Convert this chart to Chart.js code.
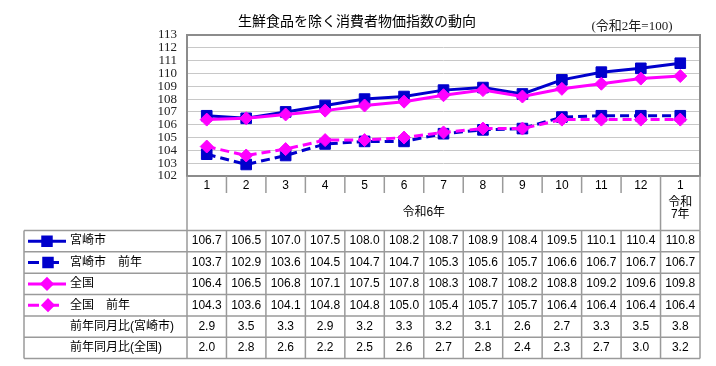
<!DOCTYPE html>
<html lang="ja">
<head>
<meta charset="utf-8">
<title>生鮮食品を除く消費者物価指数の動向</title>
<script src="https://cdn.jsdelivr.net/npm/chart.js@4.4.1/dist/chart.umd.min.js"></script>
<style>
  html, body { margin: 0; padding: 0; background: #fff; }
  #wrap { position: relative; width: 716px; height: 366px; }
</style>
</head>
<body>
<div id="wrap"><canvas id="cpiChart" width="716" height="366"></canvas></div>
<script>
// months along the x axis (2024 Jan-Dec, then 2025 Jan)
const months = ['1', '2', '3', '4', '5', '6', '7', '8', '9', '10', '11', '12', '1'];
const yearLabel = '令和6年';
const nextYearLabel = ['令和', '7年'];

const miyazaki = [106.7, 106.5, 107.0, 107.5, 108.0, 108.2, 108.7, 108.9, 108.4, 109.5, 110.1, 110.4, 110.8];
const miyazakiPrev = [103.7, 102.9, 103.6, 104.5, 104.7, 104.7, 105.3, 105.6, 105.7, 106.6, 106.7, 106.7, 106.7];
const national = [106.4, 106.5, 106.8, 107.1, 107.5, 107.8, 108.3, 108.7, 108.2, 108.8, 109.2, 109.6, 109.8];
const nationalPrev = [104.3, 103.6, 104.1, 104.8, 104.8, 105.0, 105.4, 105.7, 105.7, 106.4, 106.4, 106.4, 106.4];
const yoyMiyazaki = [2.9, 3.5, 3.3, 2.9, 3.2, 3.3, 3.2, 3.1, 2.6, 2.7, 3.3, 3.5, 3.8];
const yoyNational = [2.0, 2.8, 2.6, 2.2, 2.5, 2.6, 2.7, 2.8, 2.4, 2.3, 2.7, 3.0, 3.2];

const seriesLabels = ['宮崎市', '宮崎市　前年', '全国', '全国　前年'];
const ratioLabels = ['前年同月比(宮崎市)', '前年同月比(全国)'];

const chartTitle = '生鮮食品を除く消費者物価指数の動向';
const unitLabel = '(令和2年=100)';

const BLUE = '#0000cc';
const MAGENTA = '#ff00ff';
const LINE_GRAY = '#9a9a9a';
const TEXT_FONT = '12px "Liberation Sans", "Noto Sans CJK JP", sans-serif';

// title, frame and the data table under the plot
const tablePlugin = {
    id: 'dataTable',
    beforeDatasetsDraw(chart) {
        const { ctx, chartArea: a } = chart;
        ctx.save();
        ctx.strokeStyle = '#8c8c8c';
        ctx.lineWidth = 2;
        ctx.strokeRect(a.left, a.top, a.right - a.left, a.bottom - a.top);
        ctx.restore();
    },
    afterDraw(chart) {
        const { ctx, chartArea: a, scales: { x } } = chart;
        const colW = x.getPixelForValue(1) - x.getPixelForValue(0);
        const edge = i => x.getPixelForValue(i) - colW / 2;
        const n = months.length;
        const headTop = a.bottom;
        const headBot = a.bottom + 54.5;
        const rowH = 21.35;
        const tableLeft = 24;

        ctx.save();

        // title
        ctx.fillStyle = '#000';
        ctx.textAlign = 'center';
        ctx.textBaseline = 'middle';
        ctx.font = '14px "Noto Sans CJK JP", sans-serif';
        ctx.fillText(chartTitle, 357, 21);
        ctx.font = '13px "Liberation Serif", "Noto Sans CJK JP", serif';
        ctx.fillStyle = '#222';
        ctx.fillText(unitLabel, 632, 27);

        // header lines
        ctx.strokeStyle = LINE_GRAY;
        ctx.lineWidth = 1.5;
        ctx.beginPath();
        ctx.moveTo(edge(0), headTop); ctx.lineTo(edge(0), headBot);
        ctx.moveTo(edge(n), headTop); ctx.lineTo(edge(n), headBot);
        ctx.moveTo(edge(n - 1), headTop); ctx.lineTo(edge(n - 1), headBot);
        for (let i = 1; i < n - 1; i++) {
            ctx.moveTo(edge(i), headTop); ctx.lineTo(edge(i), headTop + 17);
        }
        ctx.stroke();

        // header text
        ctx.font = TEXT_FONT;
        ctx.fillStyle = '#000';
        months.forEach((m, i) => ctx.fillText(m, x.getPixelForValue(i), headTop + 10));
        ctx.fillText(yearLabel, (edge(0) + edge(n - 1)) / 2, headTop + 37);
        ctx.fillText(nextYearLabel[0], x.getPixelForValue(n - 1), headTop + 26.5);
        ctx.fillText(nextYearLabel[1], x.getPixelForValue(n - 1), headTop + 39);

        // body grid
        const rows = [miyazaki, miyazakiPrev, national, nationalPrev, yoyMiyazaki, yoyNational];
        const bottom = headBot + rows.length * rowH;
        ctx.beginPath();
        for (let r = 0; r <= rows.length; r++) {
            const y = headBot + r * rowH;
            ctx.moveTo(tableLeft, y); ctx.lineTo(edge(n), y);
        }
        ctx.moveTo(tableLeft, headBot); ctx.lineTo(tableLeft, bottom);
        for (let i = 0; i <= n; i++) {
            ctx.moveTo(edge(i), headBot); ctx.lineTo(edge(i), bottom);
        }
        ctx.stroke();

        // values
        rows.forEach((vals, r) => {
            const y = headBot + r * rowH + rowH / 2;
            vals.forEach((v, i) => ctx.fillText(v.toFixed(1), x.getPixelForValue(i), y));
        });

        // row labels with legend keys
        ctx.textAlign = 'left';
        const labels = seriesLabels.concat(ratioLabels);
        labels.forEach((lab, r) => {
            const y = headBot + r * rowH + rowH / 2;
            ctx.fillStyle = '#000';
            ctx.fillText(lab, 70, y);
            if (r >= seriesLabels.length) return;
            const ds = chart.data.datasets[r];
            ctx.strokeStyle = ds.borderColor;
            ctx.fillStyle = ds.backgroundColor;
            ctx.lineWidth = 3;
            ctx.beginPath();
            if (ds.borderDash) {
                ctx.moveTo(28, y); ctx.lineTo(39, y);
                ctx.moveTo(53, y); ctx.lineTo(59, y);
            } else {
                ctx.moveTo(28, y); ctx.lineTo(66, y);
            }
            ctx.stroke();
            const px = ds.borderDash ? 48 : 47;
            Chart.helpers.drawPoint(ctx, {
                pointStyle: ds.pointStyle,
                radius: ds.pointStyle === 'rect' ? 6 : 5,
                borderWidth: 1,
                rotation: 0
            }, px, y);
        });

        ctx.restore();
    }
};

function makeSeries(label, data, color, style, dashed, order) {
    return {
        label: label,
        data: data,
        borderColor: color,
        backgroundColor: color,
        borderWidth: 3,
        borderDash: dashed ? [9, 5] : undefined,
        pointStyle: style,
        pointRadius: style === 'rect' ? 7.5 : 6.5,
        pointBorderWidth: 1,
        tension: 0,
        order: order
    };
}

const ctx = document.getElementById('cpiChart').getContext('2d');
const cpiChart = new Chart(ctx, {
    type: 'line',
    data: {
        labels: months,
        datasets: [
            makeSeries(seriesLabels[0], miyazaki, BLUE, 'rect', false, 4),
            makeSeries(seriesLabels[1], miyazakiPrev, BLUE, 'rect', true, 3),
            makeSeries(seriesLabels[2], national, MAGENTA, 'rectRot', false, 2),
            makeSeries(seriesLabels[3], nationalPrev, MAGENTA, 'rectRot', true, 1)
        ]
    },
    options: {
        responsive: false,
        animation: false,
        devicePixelRatio: 1,
        layout: { padding: { left: 0, right: 16, top: 35, bottom: 190 } },
        plugins: {
            legend: { display: false },
            tooltip: { enabled: false }
        },
        scales: {
            x: { display: false, offset: true },
            y: {
                min: 102,
                max: 113,
                ticks: {
                    stepSize: 1,
                    autoSkip: false,
                    padding: 10,
                    color: '#222',
                    font: { family: '"Liberation Serif", serif', size: 13 }
                },
                grid: { color: '#c8c8c8', drawTicks: false },
                border: { display: false },
                afterFit(scale) { scale.width = 187; }
            }
        }
    },
    plugins: [tablePlugin]
});
</script>
</body>
</html>
